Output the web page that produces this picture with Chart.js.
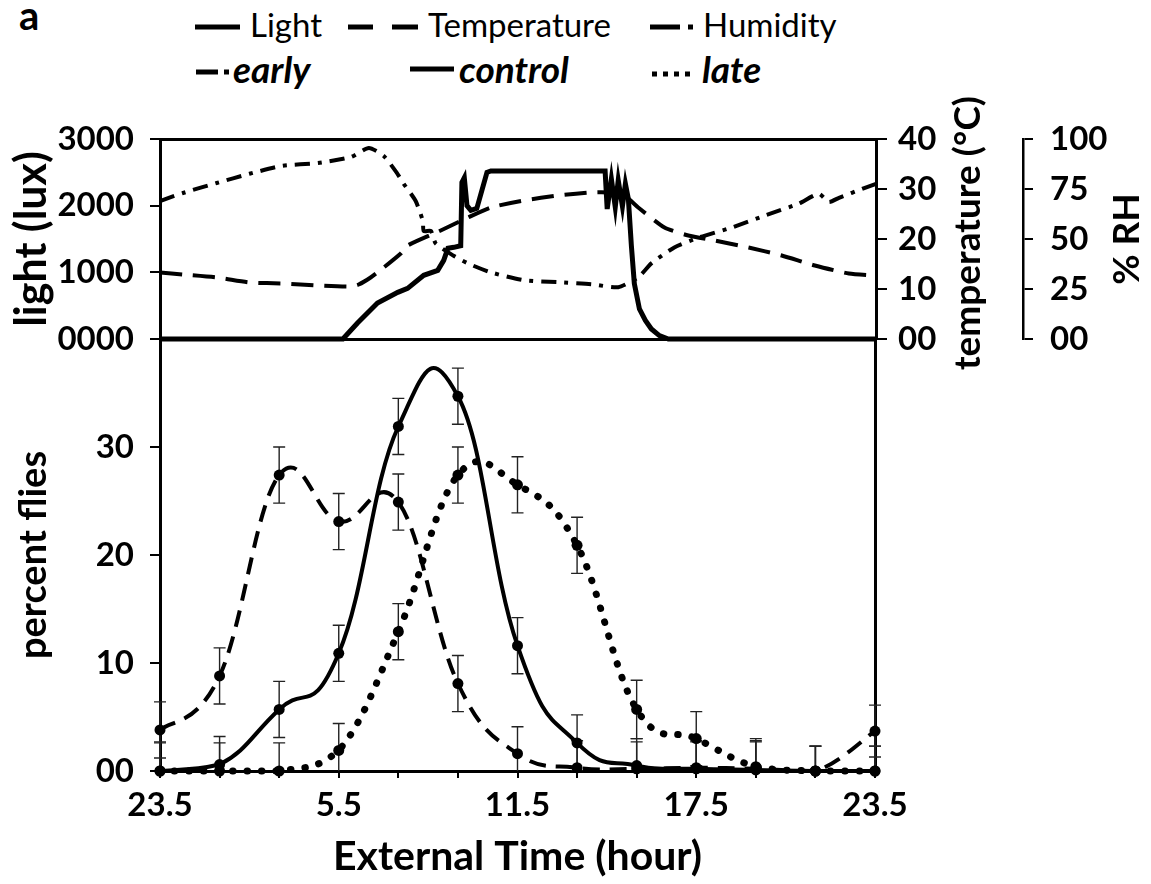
<!DOCTYPE html>
<html>
<head>
<meta charset="utf-8">
<script src="https://cdn.jsdelivr.net/npm/chart.js@4.4.1/dist/chart.umd.min.js"></script>
<style>
  body { margin: 0; background: #fff; }
  #wrap { position: relative; width: 1151px; height: 884px; overflow: hidden; }
  #wrap canvas, #wrap svg { position: absolute; left: 0; top: 0; }
</style>
</head>
<body>
<div id="wrap">
  <svg width="1151" height="110" font-family="Lato, sans-serif" fill="#000">
    <text x="19" y="30" font-size="40" font-weight="bold">a</text>
    <!-- row 1 -->
    <line x1="195" y1="27" x2="240" y2="27" stroke="#000" stroke-width="5"/>
    <text x="250" y="37" font-size="33">Light</text>
    <line x1="348" y1="27" x2="373" y2="27" stroke="#000" stroke-width="5"/>
    <line x1="392" y1="27" x2="418" y2="27" stroke="#000" stroke-width="5"/>
    <text x="428" y="37" font-size="33">Temperature</text>
    <line x1="650" y1="27" x2="680" y2="27" stroke="#000" stroke-width="5"/>
    <line x1="688" y1="27" x2="693" y2="27" stroke="#000" stroke-width="5"/>
    <text x="703" y="37" font-size="33">Humidity</text>
    <!-- row 2 -->
    <line x1="196" y1="72" x2="218" y2="72" stroke="#000" stroke-width="5"/>
    <line x1="224" y1="72" x2="229" y2="72" stroke="#000" stroke-width="5"/>
    <text x="233" y="83" font-size="37" font-weight="bold" font-style="italic">early</text>
    <line x1="410" y1="69" x2="454" y2="69" stroke="#000" stroke-width="5"/>
    <text x="459" y="83" font-size="37" font-weight="bold" font-style="italic">control</text>
    <line x1="652" y1="74" x2="690" y2="74" stroke="#000" stroke-width="5" stroke-dasharray="5 6"/>
    <text x="702" y="83" font-size="37" font-weight="bold" font-style="italic">late</text>
  </svg>
  <canvas id="envChart" width="1151" height="884"></canvas>
  <canvas id="flyChart" width="1151" height="884"></canvas>
</div>
<script>
// ---- environment (top panel), hours after 23.5 ----
const lightHours = [0, 6.13, 6.62, 7.29, 7.97, 8.30, 8.84, 9.31, 9.51, 9.65, 9.85, 10.08, 10.12, 10.2, 10.29, 10.42, 10.62, 10.96, 11.09,
                    14.92, 14.99, 15.13, 15.26, 15.36, 15.50, 15.60, 15.70, 15.80, 15.90, 16.07, 16.27, 16.47, 16.74, 17.04, 24];
const lightLux = [0, 0, 240, 540, 700, 760, 955, 1030, 1180, 1360, 1375, 1400, 2350, 2420, 2000, 1930, 1960, 2500, 2520,
                  2520, 1950, 2400, 1980, 2380, 1990, 2330, 2100, 1400, 830, 450, 280, 150, 50, 0, 0];

const tempHours = [0, 0.77, 1.92, 3.03, 4.13, 5.28, 6.39, 6.66, 7.06, 7.5, 8.07, 8.3, 9.41, 10.32, 11.09, 12.2, 13.34, 14.45,
                   15.03, 15.56, 16.03, 16.91, 17.71, 18.59, 19.73, 20.84, 21.95, 23.09, 24];
const tempC = [13.3, 12.9, 12.3, 11.3, 11.1, 10.7, 10.5, 10.9, 12.3, 14.3, 17.1, 18.7, 21.7, 24.3, 26.3, 27.7, 28.7, 29.3,
               29.3, 28.7, 26.3, 22.3, 20.7, 19.7, 18.3, 16.7, 14.7, 13.1, 12.7];

const humHours = [0, 0.77, 1.9, 3.0, 4.1, 5.3, 6.4, 7.0, 7.5, 7.96, 8.17, 8.57, 8.81, 8.84, 9.08, 9.24, 9.82, 10.32, 11.09, 12.2,
                  13.34, 14.45, 15.36, 16.03, 16.47, 17.24, 18.05, 19.16, 20.27, 21.41, 22.08, 22.42, 22.76, 23.63, 24];
const humRH = [69, 73, 78, 82.6, 86.6, 88, 91, 95.5, 91.5, 82.6, 77.6, 69, 59, 54, 54, 47.8, 41.8, 37.8, 33.3, 29.4,
               28.4, 27.4, 25.9, 30.8, 37.8, 45.8, 50.7, 55.7, 61.7, 67.7, 72.6, 68.5, 70.6, 75.6, 77.6];

// ---- percent flies (bottom panel) ----
const sampleHours = [0, 2, 4, 6, 8, 10, 12, 14, 16, 18, 20, 22, 24];
const earlyPct   = [3.8, 8.8, 27.4, 23.1, 24.9, 8.1, 1.6, 0.3, 0.2, 0.3, 0.2, 0, 3.7];
const controlPct = [0, 0.6, 5.7, 10.9, 31.9, 34.7, 11.6, 2.6, 0.5, 0.2, 0.1, 0, 0];
const latePct    = [0, 0, 0, 1.9, 12.9, 27.4, 26.5, 20.9, 5.7, 3.0, 0.4, 0, 0];
const earlyErr   = [2.6, 2.6, 2.6, 2.6, 2.6, 2.6, 2.5, 2.5, 2.5, 2.4, 2.5, 2.3, 2.4];
const controlErr = [2.7, 2.6, 2.6, 2.6, 2.6, 2.6, 2.6, 2.6, 2.5, 2.6, 2.7, 2.3, 2.3];
const lateErr    = [2.6, 2.6, 2.6, 2.5, 2.6, 2.6, 2.6, 2.6, 2.7, 2.5, 2.6, 2.3, 2.3];

// ---- tick labels ----
const timeTickHours = [0, 6, 12, 18, 24];
const timeTickLabels = ['23.5', '5.5', '11.5', '17.5', '23.5'];
const luxTickLabels = ['0000', '1000', '2000', '3000'];
const tempTickLabels = ['00', '10', '20', '30', '40'];
const rhTickLabels = ['00', '25', '50', '75', '100'];
const flyTickLabels = ['00', '10', '20', '30', ''];

Chart.defaults.font.family = 'Lato, sans-serif';
Chart.defaults.color = '#000';

const pts = (xs, ys) => xs.map((x, i) => ({ x: x, y: ys[i] }));
const tickFont = { size: 33, weight: 'bold' };
const titleFont = { size: 38, weight: 'bold' };
const axisLine = { display: true, color: '#000', width: 3 };
const outTicks = len => ({ display: true, drawOnChartArea: false, drawTicks: true, tickLength: len, color: '#000', lineWidth: 2 });

// titles on the right side read bottom-to-top, like the left ones
const sideTitles = {
  id: 'sideTitles',
  afterDraw(chart, args, opts) {
    const ctx = chart.ctx;
    (opts.items || []).forEach(it => {
      const s = chart.scales[it.scale];
      ctx.save();
      ctx.translate(s.right - it.offset, (s.top + s.bottom) / 2 + (it.dy || 0));
      ctx.rotate(-Math.PI / 2);
      ctx.font = 'bold 37px Lato, sans-serif';
      ctx.fillStyle = '#000';
      ctx.textAlign = 'center';
      ctx.textBaseline = 'middle';
      ctx.fillText(it.text, 0, 0);
      ctx.restore();
    });
  }
};

// spreadsheet-style smoothing: tangent = k * (next - prev), evenly for every point
const evenSmooth = {
  id: 'evenSmooth',
  beforeDatasetDraw(chart, args) {
    const ds = chart.data.datasets[args.index];
    if (!ds.smooth) return;
    const line = args.meta.dataset;
    const p = args.meta.data;
    const area = chart.chartArea;
    const cap = v => Math.max(area.top, Math.min(area.bottom, v));
    for (let i = 0; i < p.length; i++) {
      const prev = p[i - 1] || p[i], next = p[i + 1] || p[i];
      const dx = ds.smooth * (next.x - prev.x), dy = ds.smooth * (next.y - prev.y);
      p[i].cp1x = p[i].x - dx; p[i].cp1y = cap(p[i].y - dy);
      p[i].cp2x = p[i].x + dx; p[i].cp2y = cap(p[i].y + dy);
    }
    line._pointsUpdated = true;
    line._path = undefined;
  }
};

const errorBars = {
  id: 'errorBars',
  beforeDatasetsDraw(chart) {
    const { ctx, chartArea, scales: { x, y } } = chart;
    ctx.save();
    ctx.beginPath();
    ctx.rect(0, chartArea.top, chart.width, chartArea.bottom - chartArea.top);
    ctx.clip();
    ctx.strokeStyle = '#222';
    ctx.lineWidth = 1.4;
    chart.data.datasets.forEach(ds => {
      if (!ds.errors) return;
      ds.data.forEach((p, i) => {
        const e = ds.errors[i];
        const px = x.getPixelForValue(p.x);
        const hi = y.getPixelForValue(p.y + e);
        const lo = y.getPixelForValue(p.y - e);
        ctx.beginPath();
        ctx.moveTo(px, hi); ctx.lineTo(px, lo);
        ctx.moveTo(px - 6, hi); ctx.lineTo(px + 6, hi);
        ctx.moveTo(px - 6, lo); ctx.lineTo(px + 6, lo);
        ctx.stroke();
      });
    });
    ctx.restore();
  }
};

new Chart(document.getElementById('envChart'), {
  type: 'line',
  data: {
    datasets: [{
      label: 'Light',
      data: pts(lightHours, lightLux),
      yAxisID: 'yLux',
      borderColor: '#000',
      borderWidth: 5,
      pointRadius: 0,
      tension: 0,
      clip: 6
    }, {
      label: 'Temperature',
      data: pts(tempHours, tempC),
      yAxisID: 'yTemp',
      borderColor: '#000',
      borderWidth: 4,
      borderDash: [22, 11],
      pointRadius: 0,
      tension: 0.2
    }, {
      label: 'Humidity',
      data: pts(humHours, humRH),
      yAxisID: 'yRH',
      borderColor: '#000',
      borderWidth: 4,
      borderDash: [15, 8, 4, 8],
      pointRadius: 0,
      tension: 0.2
    }]
  },
  options: {
    responsive: false,
    animation: false,
    devicePixelRatio: 1,
    layout: { padding: { top: 139, bottom: 545, left: 0, right: 0 } },
    plugins: {
      legend: { display: false },
      tooltip: { enabled: false },
      sideTitles: { items: [
        { scale: 'yTemp', text: 'temperature (°C)', offset: 55, dy: -6 },
        { scale: 'yRH', text: '% RH', offset: 24 }
      ] }
    },
    scales: {
      x: {
        type: 'linear', position: 'bottom', min: 0, max: 24,
        ticks: { display: false }, grid: { display: false }, border: axisLine,
        afterFit(s) { s.height = 0; }
      },
      xTop: {
        type: 'linear', position: 'top', min: 0, max: 24,
        ticks: { display: false }, grid: { display: false }, border: axisLine,
        afterFit(s) { s.height = 0; }
      },
      yLux: {
        position: 'left', min: 0, max: 3000,
        ticks: { stepSize: 1000, font: tickFont, padding: 16, callback: v => luxTickLabels[v / 1000] },
        grid: outTicks(10), border: axisLine,
        title: { display: true, text: 'light (lux)', font: { size: 43, weight: 'bold' }, padding: { top: 6 } },
        afterFit(s) { s.width = 160; }
      },
      yTemp: {
        position: 'right', weight: 1, min: 0, max: 40,
        ticks: { stepSize: 10, font: tickFont, padding: 11, callback: v => tempTickLabels[v / 10] },
        grid: outTicks(11), border: axisLine,
        afterFit(s) { s.width = 147; }
      },
      yRH: {
        position: 'right', weight: 2, min: 0, max: 100,
        ticks: { stepSize: 25, font: tickFont, padding: 17, callback: v => rhTickLabels[v / 25] },
        grid: outTicks(10), border: { display: true, color: '#000', width: 2.5 },
        afterFit(s) { s.width = 128; }
      }
    }
  },
  plugins: [sideTitles]
});

const flySeries = (label, values, errors, style) => Object.assign({
  label: label,
  data: pts(sampleHours, values),
  errors: errors,
  borderColor: '#000',
  pointBackgroundColor: '#000',
  pointBorderWidth: 0,
  pointRadius: 5.5,
  tension: 0.4,
  smooth: 0.2,
  clip: 8
}, style);

new Chart(document.getElementById('flyChart'), {
  type: 'line',
  data: {
    datasets: [
      flySeries('early', earlyPct, earlyErr, { borderWidth: 4, borderDash: [17, 10] }),
      flySeries('control', controlPct, controlErr, { borderWidth: 4, smooth: 0.23 }),
      flySeries('late', latePct, lateErr, { borderWidth: 7, borderDash: [0.5, 14], borderCapStyle: 'round' })
    ]
  },
  options: {
    responsive: false,
    animation: false,
    devicePixelRatio: 1,
    layout: { padding: { top: 339, bottom: 0, left: 0, right: 0 } },
    plugins: { legend: { display: false }, tooltip: { enabled: false } },
    scales: {
      x: {
        type: 'linear', position: 'bottom', min: 0, max: 24,
        ticks: {
          stepSize: 2, autoSkip: false, maxRotation: 0, font: tickFont, padding: 8,
          callback: v => { const k = timeTickHours.indexOf(v); return k < 0 ? '' : timeTickLabels[k]; }
        },
        grid: outTicks(7), border: axisLine,
        title: { display: true, text: 'External Time (hour)', font: { size: 41, weight: 'bold' }, padding: { top: 0, bottom: 3 } },
        afterFit(s) { s.height = 113; }
      },
      y: {
        position: 'left', min: 0, max: 40,
        ticks: { stepSize: 10, font: tickFont, padding: 16, callback: v => flyTickLabels[v / 10] },
        grid: outTicks(10), border: axisLine,
        title: { display: true, text: 'percent flies', font: titleFont, padding: { top: 11 } },
        afterFit(s) { s.width = 160; }
      },
      yEdge: {
        position: 'right', min: 0, max: 40,
        ticks: { display: false }, grid: { display: false }, border: axisLine,
        afterFit(s) { s.width = 276; }
      }
    }
  },
  plugins: [evenSmooth, errorBars]
});
</script>
</body>
</html>
